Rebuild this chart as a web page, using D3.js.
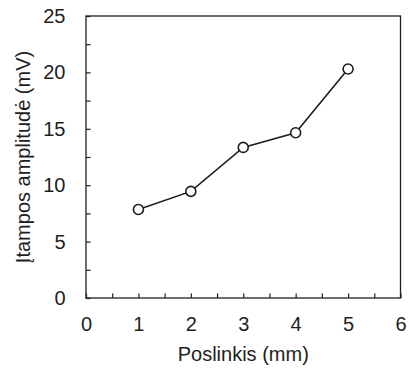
<!DOCTYPE html>
<html><head><meta charset="utf-8">
<script src="https://cdn.jsdelivr.net/npm/d3@7"></script>
<style>body{margin:0;background:#fff;} text{font-family:"Liberation Sans",Arial,sans-serif;fill:#1e1e1e;}</style>
</head><body>
<svg id="c" width="409" height="368"></svg>
<script>
const xValues = [1, 2, 3, 4, 5];
const yValues = [7.85, 9.45, 13.35, 14.65, 20.3];
const xTicks = [0, 1, 2, 3, 4, 5, 6];
const yTicks = [0, 5, 10, 15, 20, 25];
const xLabel = "Poslinkis (mm)";
const yLabel = "Įtampos amplitudė (mV)";

const svg = d3.select("#c");
const L = 86, R = 400.5, T = 16, B = 298;
const x = d3.scaleLinear().domain([0, 6]).range([L, R]);
const y = d3.scaleLinear().domain([0, 25]).range([B, T]);
const col = "#1e1e1e";
const FS = 20;

svg.append("rect").attr("x", L).attr("y", T).attr("width", R - L).attr("height", B - T)
  .attr("fill", "none").attr("stroke", col).attr("stroke-width", 1.3);

const xa = svg.append("g").attr("transform", `translate(0,${B})`)
  .call(d3.axisBottom(x).tickValues(d3.range(0, 6.01, 0.5)).tickSize(-4.5).tickFormat(""));
xa.select(".domain").remove();
xa.selectAll("line").attr("stroke", col).attr("stroke-width", 1.2);
const xl = svg.append("g").attr("transform", `translate(0,${B})`)
  .call(d3.axisBottom(x).tickValues(xTicks).tickSize(0).tickPadding(18.5).tickFormat(d3.format("d")));
xl.select(".domain").remove();
xl.selectAll("text").attr("font-size", FS).attr("fill", col).style("font-family", "Liberation Sans, Arial, sans-serif");

const ya = svg.append("g").attr("transform", `translate(${L},0)`)
  .call(d3.axisLeft(y).tickValues(d3.range(0, 25.01, 2.5)).tickSize(-4.5).tickFormat(""));
ya.select(".domain").remove();
ya.selectAll("line").attr("stroke", col).attr("stroke-width", 1.2);
const yl = svg.append("g").attr("transform", `translate(${L},0)`)
  .call(d3.axisLeft(y).tickValues(yTicks).tickSize(0).tickPadding(20.5).tickFormat(d3.format("d")));
yl.select(".domain").remove();
yl.selectAll("text").attr("font-size", FS).attr("fill", col).style("font-family", "Liberation Sans, Arial, sans-serif");

svg.append("text").attr("x", (L + R) / 2).attr("y", 361).attr("text-anchor", "middle")
  .attr("font-size", FS).text(xLabel);
svg.append("text").attr("transform", `translate(30,${(T + B) / 2}) rotate(-90)`)
  .attr("text-anchor", "middle").attr("font-size", FS).text(yLabel);

const pts = xValues.map((v, i) => [v, yValues[i]]);
svg.append("path").datum(pts)
  .attr("d", d3.line().x(d => x(d[0])).y(d => y(d[1])))
  .attr("fill", "none").attr("stroke", col).attr("stroke-width", 1.6);
svg.selectAll("circle.p").data(pts).enter().append("circle")
  .attr("cx", d => x(d[0])).attr("cy", d => y(d[1])).attr("r", 5)
  .attr("fill", "#fff").attr("stroke", col).attr("stroke-width", 1.6);
</script>
</body></html>
